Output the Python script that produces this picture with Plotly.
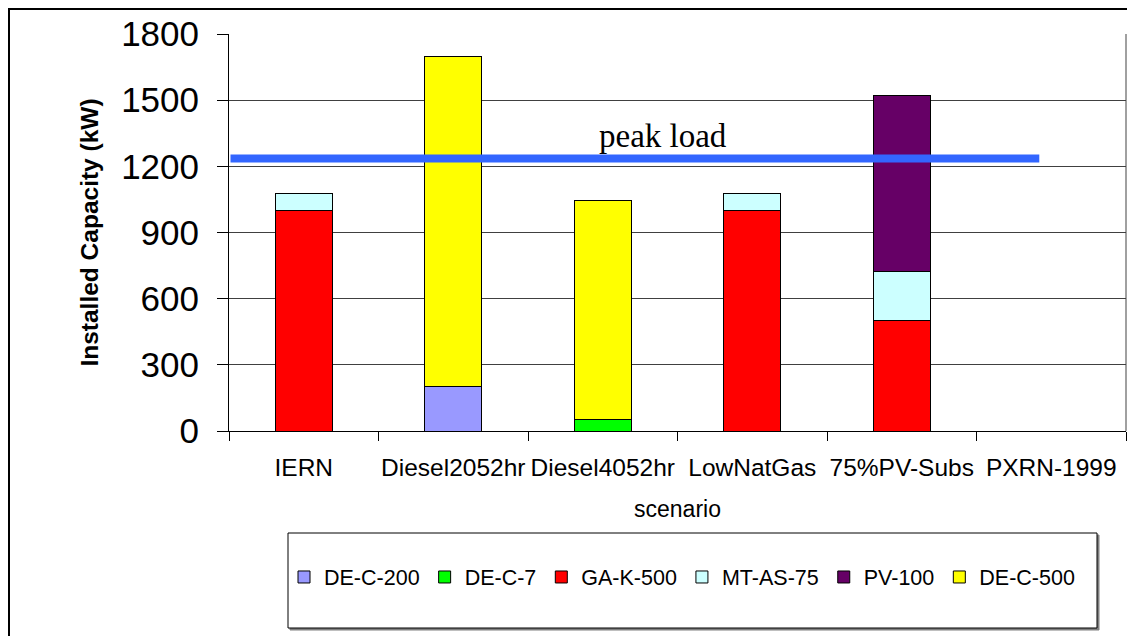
import plotly.graph_objects as go

categories = ["IERN", "Diesel2052hr", "Diesel4052hr", "LowNatGas", "75%PV-Subs", "PXRN-1999"]
series_names = ["DE-C-200", "DE-C-7", "GA-K-500", "MT-AS-75", "PV-100", "DE-C-500"]
de_c_200 = [None, 200, None, None, None, None]
de_c_7 = [None, None, 50, None, None, None]
ga_k_500 = [1000, None, None, 1000, 500, None]
mt_as_75 = [75, None, None, 75, 225, None]
pv_100 = [None, None, None, None, 795, None]
de_c_500 = [None, 1500, 995, None, None, None]
series_values = [de_c_200, de_c_7, ga_k_500, mt_as_75, pv_100, de_c_500]
colors = ["#9999FF", "#00FF00", "#FF0000", "#CCFFFF", "#660066", "#FFFF00"]
peak_load = 1236
y_ticks = [0, 300, 600, 900, 1200, 1500, 1800]

# page is offset by the 8px body margin
OFF = 8
W, H = 1135 - OFF, 636 - OFF
L, R, T, B = 229 - OFF, 1126 - OFF, 34 - OFF, 431 - OFF

def px_x(p):
    return (p - OFF - L) / (R - L)

def px_y(p):
    return (B - (p - OFF)) / (B - T)

fig = go.Figure()
for name, vals, col in zip(series_names, series_values, colors):
    fig.add_trace(go.Bar(
        x=categories, y=vals, name=name,
        marker=dict(color=col, line=dict(color="black", width=1)),
        width=0.38,
    ))

# peak load line
fig.add_shape(type="line", xref="x", yref="y", x0=-0.49, x1=4.92, y0=peak_load, y1=peak_load,
              line=dict(color="#3366FF", width=8), layer="above")
fig.add_annotation(x=2.4, y=peak_load, yshift=22, xref="x", yref="y", text="peak load",
                   showarrow=False, font=dict(family="Liberation Serif", size=33, color="black"))

# plot-area right border
fig.add_shape(type="line", xref="paper", yref="paper", x0=1, x1=1, y0=0, y1=1,
              line=dict(color="#A0A0A0", width=2), layer="below")
# legend box shadow + box
fig.add_shape(type="rect", xref="paper", yref="paper",
              x0=px_x(290), x1=px_x(1099), y0=px_y(630), y1=px_y(535),
              line=dict(color="#808080", width=1), fillcolor="#808080", layer="below")
fig.add_shape(type="rect", xref="paper", yref="paper",
              x0=px_x(288), x1=px_x(1097), y0=px_y(628), y1=px_y(533),
              line=dict(color="black", width=1), fillcolor="white", layer="below")
# outer border
fig.add_shape(type="rect", xref="paper", yref="paper",
              x0=px_x(9), x1=px_x(1145), y0=px_y(650), y1=px_y(9),
              line=dict(color="black", width=2), fillcolor="rgba(0,0,0,0)", layer="below")

fig.update_layout(
    width=W, height=H,
    margin=dict(l=L, r=W - R, t=T, b=H - B, autoexpand=False),
    paper_bgcolor="white", plot_bgcolor="white",
    barmode="stack",
    font=dict(family="Liberation Sans", color="black"),
    showlegend=True,
    legend=dict(orientation="h", x=px_x(284), y=px_y(577), xanchor="left", yanchor="middle",
                traceorder="normal", font=dict(size=21.5), bgcolor="rgba(0,0,0,0)",
                borderwidth=0, itemclick=False),
    xaxis=dict(
        range=[-0.5, 5.5], type="category", tickson="boundaries", ticks="outside", ticklen=9,
        tickcolor="black", showline=True, linecolor="black", linewidth=1, showgrid=False,
        tickfont=dict(size=24.5), ticklabelstandoff=15, tickangle=0, automargin=False,
        title=dict(text="scenario", font=dict(size=23), standoff=20),
    ),
    yaxis=dict(
        range=[0, 1800], tickvals=y_ticks, ticks="outside", ticklen=11, tickcolor="black",
        showline=True, linecolor="black", linewidth=1, automargin=False,
        showgrid=True, gridcolor="#404040", gridwidth=1, zeroline=False,
        tickfont=dict(size=35), ticklabelstandoff=11,
        title=dict(text="<b>Installed Capacity (kW)</b>", font=dict(size=24.5), standoff=15),
    ),
)

fig.write_html("out.html")
